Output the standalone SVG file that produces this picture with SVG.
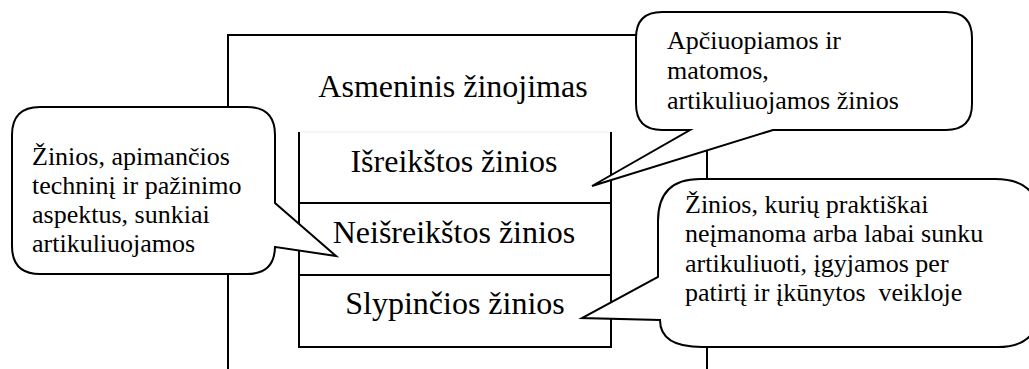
<svg xmlns="http://www.w3.org/2000/svg" width="1029" height="369" viewBox="0 0 1029 369">
<style>
.ln{fill:none;stroke:#000;stroke-width:2}
.co{fill:#fff;stroke:#000;stroke-width:2;stroke-linejoin:miter}
.t{font-family:"Liberation Serif","Times New Roman",serif;font-size:26px;fill:#000}
.big{font-size:32px}
.c{text-anchor:middle}
</style>
<rect width="1029" height="369" fill="#fff"/>
<g id="asmeninis">
<path class="ln" d="M228,369 V35 H707 V369"/>
<text class="t big c" x="453" y="97">Asmeninis žinojimas</text>
</g>
<g id="ziniu-deze">
<line x1="299" y1="132" x2="611" y2="132" stroke="#ececec" stroke-width="1"/>
<path class="ln" d="M299,132 V347 H611 V132"/>
<line class="ln" x1="299" y1="203" x2="611" y2="203"/>
<line class="ln" x1="299" y1="275" x2="611" y2="275"/>
<text class="t big c" x="454" y="172">Išreikštos žinios</text>
<text class="t big c" x="454" y="243">Neišreikštos žinios</text>
<text class="t big c" x="455" y="314">Slypinčios žinios</text>
</g>
<g id="connectors">
<g id="callout-left">
<path class="co" d="M40,107 H247 Q275,107 275,135 V203 L336,256 L275,247 V246 Q275,274 247,274 H40 Q12,274 12,246 V135 Q12,107 40,107 Z"/>
</g>
<g id="callout-top">
<path class="co" d="M662,12 H946 Q972,12 972,38 V104 Q972,130 946,130 H773 L592,186 L690,130 H662 Q636,130 636,104 V38 Q636,12 662,12 Z"/>
</g>
<g id="callout-right">
<path class="co" d="M700,179 H995 Q1040,179 1040,222 V305 Q1040,347 998,347 H702 Q660,347 660,320 L582,318 L658,277 V221 Q658,179 700,179 Z"/>
</g>
</g>
<g id="text-left">
<text class="t" x="32" y="165">Žinios, apimančios</text>
<text class="t" x="32" y="194">techninį ir pažinimo</text>
<text class="t" x="32" y="223">aspektus, sunkiai</text>
<text class="t" x="32" y="252">artikuliuojamos</text>
</g>
<g id="text-top">
<text class="t" x="667" y="49">Apčiuopiamos ir</text>
<text class="t" x="667" y="79">matomos,</text>
<text class="t" x="667" y="109">artikuliuojamos žinios</text>
</g>
<g id="text-right">
<text class="t" x="685" y="213">Žinios, kurių praktiškai</text>
<text class="t" x="685" y="242">neįmanoma arba labai sunku</text>
<text class="t" x="685" y="272">artikuliuoti, įgyjamos per</text>
<text class="t" x="685" y="301" xml:space="preserve">patirtį ir įkūnytos  veikloje</text>
</g>
</svg>
